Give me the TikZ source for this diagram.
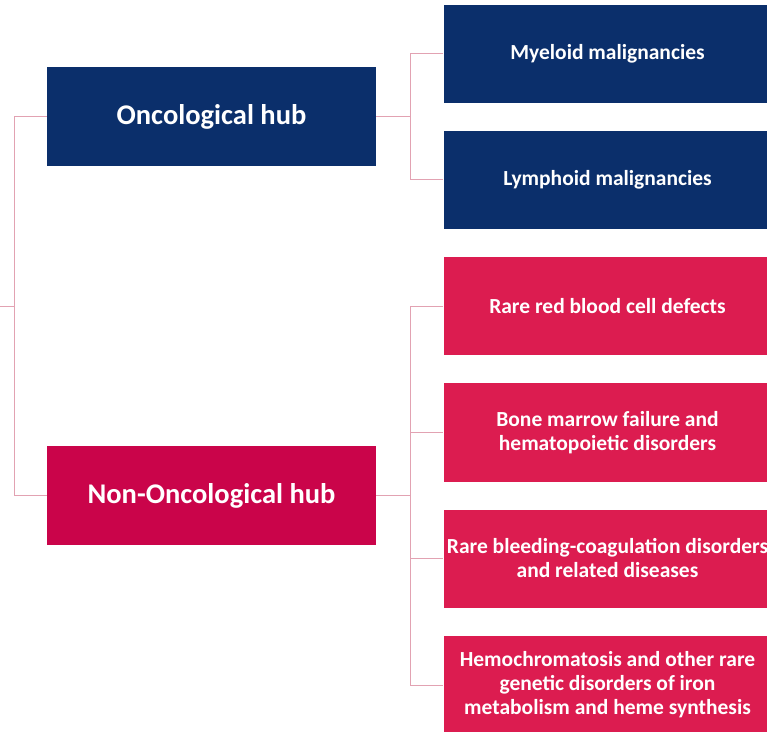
\documentclass[tikz,border=0pt]{standalone}
\usepackage{fontspec}
\setmainfont{Carlito}
\definecolor{navyhub}{RGB}{11,47,107}
\definecolor{crimsonhub}{RGB}{202,4,74}
\definecolor{crimsonbox}{RGB}{220,28,80}
\definecolor{linkpink}{RGB}{226,162,178}
\begin{document}
\begin{tikzpicture}[x=1pt,y=1pt,
  hubbox/.style={minimum width=329pt,minimum height=99pt,inner sep=0pt,
    text=white,font=\bfseries\fontsize{28.5}{32}\selectfont},
  leafbox/.style={minimum width=328pt,minimum height=98pt,inner sep=0pt,
    text=white,align=center,font=\bfseries\fontsize{21.5}{24}\selectfont},
  link/.style={draw=linkpink,line width=1pt}]
\useasboundingbox (0,0) rectangle (767,731);
\clip (0,0) rectangle (767,731);
\fill[white] (0,0) rectangle (767,731);

% hubs
\node[hubbox,fill=navyhub] (onco) at (211.5,614) {Oncological hub};
\node[hubbox,fill=crimsonhub] (nononco) at (211.5,235.5) {Non-Oncological hub};

% oncological branches
\node[leafbox,fill=navyhub] (myeloid) at (607.5,677) {Myeloid malignancies};
\node[leafbox,fill=navyhub] (lymphoid) at (607.5,551) {Lymphoid malignancies};

% non-oncological branches
\node[leafbox,fill=crimsonbox] (redcell) at (607.5,424.5) {Rare red blood cell defects};
\node[leafbox,fill=crimsonbox] (marrow) at (607.5,298.5) {Bone marrow failure and\\hematopoietic disorders};
\node[leafbox,fill=crimsonbox] (bleeding) at (607.5,172.5) {Rare bleeding-coagulation disorders\\and related diseases};
\node[leafbox,fill=crimsonbox] (iron) at (607.5,46) {Hemochromatosis and other rare\\genetic disorders of iron\\metabolism and heme synthesis};

% root trunk on the left
\coordinate (rootin) at (0,424);
\coordinate (trunk) at (14,424);
\draw[link] (rootin) -- (trunk);
\draw[link] (onco.west) -- (onco.west -| trunk) -- (nononco.west -| trunk) -- (nononco.west);

% oncological fan-out
\coordinate (ofork) at (410,0);
\draw[link] (onco.east) -- (onco.east -| ofork);
\draw[link] (myeloid.west) -- (myeloid.west -| ofork) -- (lymphoid.west -| ofork) -- (lymphoid.west);

% non-oncological fan-out
\draw[link] (nononco.east) -- (nononco.east -| ofork);
\draw[link] (redcell.west) -- (redcell.west -| ofork) -- (iron.west -| ofork) -- (iron.west);
\draw[link] (marrow.west -| ofork) -- (marrow.west);
\draw[link] (bleeding.west -| ofork) -- (bleeding.west);
\end{tikzpicture}
\end{document}
